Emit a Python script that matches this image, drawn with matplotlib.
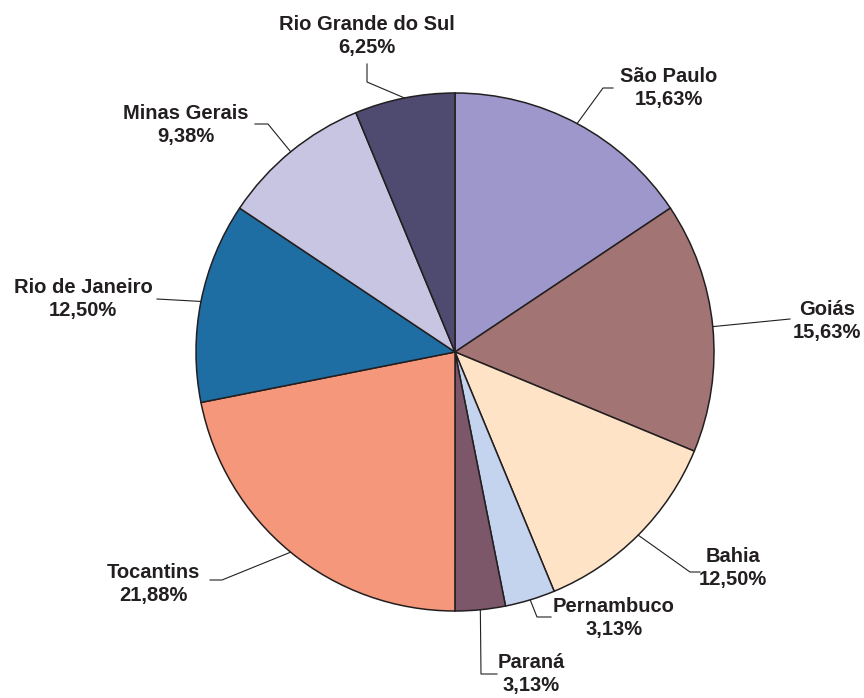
import numpy as np
import matplotlib.pyplot as plt

plt.rcParams['font.family'] = ['Liberation Sans', 'DejaVu Sans']

# share of each state, clockwise from 12 o'clock
states = ['São Paulo', 'Goiás', 'Bahia', 'Pernambuco', 'Paraná',
          'Tocantins', 'Rio de Janeiro', 'Minas Gerais', 'Rio Grande do Sul']
shares = [15.63, 15.63, 12.50, 3.13, 3.13, 21.88, 12.50, 9.38, 6.25]
share_labels = ['15,63%', '15,63%', '12,50%', '3,13%', '3,13%',
                '21,88%', '12,50%', '9,38%', '6,25%']
colors = ['#9e97cb', '#a37474', '#fee3c7', '#c5d4ee', '#7c5669',
          '#f4977a', '#1f6ea3', '#c8c5e3', '#4f4a70']

# label layout in pixels: elbow of leader, end of leader, text centre
elbow = [(603, 88), (790, 319), (690, 572), (537, 617), (481, 674),
         (222, 580), (157, 299), (268, 124), (367, 82)]
line_end = [(613, 88), (790, 319), (700, 572), (551, 617), (497, 674),
            (210, 580), (157, 299), (255, 124), (367, 64)]
text_pos = [(669, 88), (827, 321), (733, 568), (614, 618), (531, 674),
            (153, 584), (83, 299), (186, 125), (367, 36)]

W, H = 864, 698
cx, cy, R = 455, 352, 259


def to_data(p):
    return ((p[0] - cx) / R, (cy - p[1]) / R)


fig = plt.figure(figsize=(W / 100, H / 100), dpi=100)
ax = fig.add_axes([0, 0, 1, 1])

wedges, _ = ax.pie(shares, colors=colors, startangle=90, counterclock=False,
                   radius=1.0, wedgeprops=dict(edgecolor='#231f20', linewidth=1.1))

ax.set_xlim(-cx / R, (W - cx) / R)
ax.set_ylim(-(H - cy) / R, cy / R)
ax.set_aspect('auto')
ax.axis('off')

for i, w in enumerate(wedges):
    mid = np.deg2rad((w.theta1 + w.theta2) / 2)
    x0, y0 = np.cos(mid), np.sin(mid)
    x1, y1 = to_data(elbow[i])
    x2, y2 = to_data(line_end[i])
    ax.plot([x0, x1, x2], [y0, y1, y2], color='#231f20', lw=0.8)
    tx, ty = to_data(text_pos[i])
    ax.text(tx, ty, states[i] + '\n' + share_labels[i], ha='center', va='center',
            fontsize=14.5, fontweight='bold', color='#231f20', linespacing=1.3)

fig.savefig('out.png', dpi=100)
